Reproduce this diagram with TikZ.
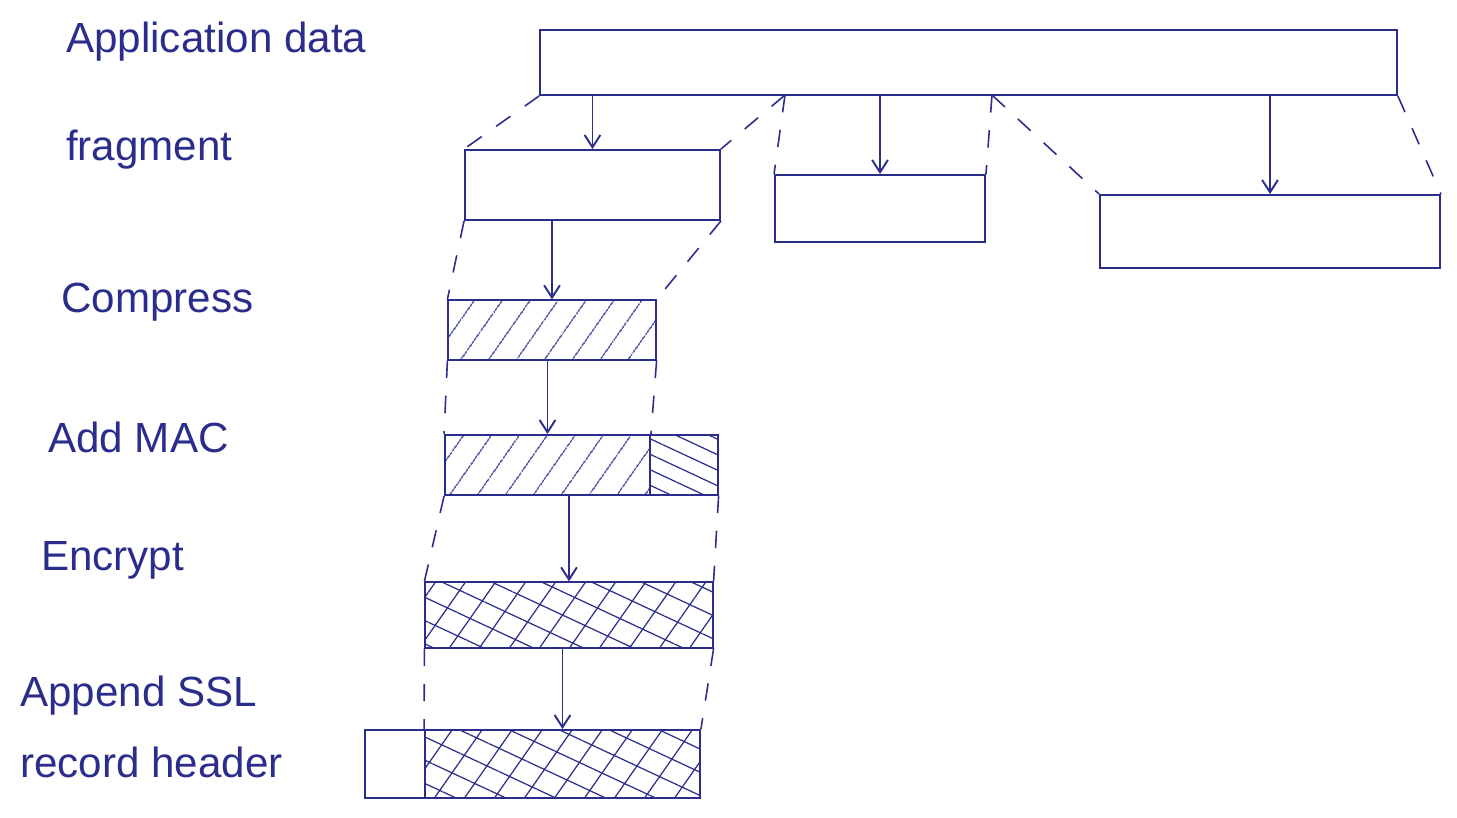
\documentclass[tikz,border=0pt]{standalone}
\usepackage{fontspec}
\setmainfont{Liberation Sans}
\usetikzlibrary{arrows.meta,patterns.meta}
\definecolor{ink}{HTML}{2B2D8C}
\begin{document}
\begin{tikzpicture}[x=0.02cm,y=-0.02cm,
  every node/.style={font=\fontsize{24}{40}\selectfont,text=ink},
  box/.style={draw=ink,line width=1.1pt,inner sep=0pt},
  slashbox/.style={box,pattern={Lines[angle=55,distance=13pt,line width=0.7pt]},pattern color=ink},
  macbox/.style={box,pattern={Lines[angle=-25,distance=8pt,line width=0.7pt]},pattern color=ink},
  crossbox/.style={box,pattern={Lines[angle=55,distance=14pt,line width=0.7pt]},pattern color=ink,
    postaction={pattern={Lines[angle=-25,distance=12pt,line width=0.7pt]},pattern color=ink}},
  guide/.style={draw=ink,line width=0.9pt,dash pattern=on 10pt off 10pt},
  arr/.style={draw=ink,line width=1.1pt,-{Straight Barb[length=7pt,width=9pt]}},
  lbl/.style={anchor=base west,align=left}]
\useasboundingbox (0,0) rectangle (1457,818);
% labels
\node[lbl] (lapp) at (60,52) {Application data};
\node[lbl] (lfrag) at (60,160) {fragment};
\node[lbl] (lcomp) at (55,312) {Compress};
\node[lbl] (lmac) at (42,452) {Add MAC};
\node[lbl] (lenc) at (35,570) {Encrypt};
\node[lbl,anchor=west] (lhdr) at (14,727) {Append SSL\\record header};
% application data and fragments
\node[box,minimum width=17.14cm,minimum height=1.3cm] (app) at (968.5,62.5) {};
\node[box,minimum width=5.1cm,minimum height=1.4cm] (frag1) at (592.5,185) {};
\node[box,minimum width=4.2cm,minimum height=1.34cm] (frag2) at (880,208.5) {};
\node[box,minimum width=6.8cm,minimum height=1.46cm] (frag3) at (1270,231.5) {};
\coordinate (cut1) at (785,95);
\coordinate (cut2) at (992,95);
\draw[arr] (app.south -| frag1) -- (frag1.north);
\draw[arr] (app.south -| frag2) -- (frag2.north);
\draw[arr] (app.south -| frag3) -- (frag3.north);
\draw[guide] (app.south west) -- (frag1.north west);
\draw[guide] (cut1) -- (frag1.north east);
\draw[guide] (cut1) -- (frag2.north west);
\draw[guide] (cut2) -- (frag2.north east);
\draw[guide] (cut2) -- (frag3.north west);
\draw[guide] (app.south east) -- (frag3.north east);
% compress
\node[slashbox,minimum width=4.16cm,minimum height=1.2cm] (comp) at (552,330) {};
\draw[arr] (comp.north |- frag1.south) -- (comp.north);
\draw[guide] (frag1.south west) -- (comp.north west);
\draw[guide] (frag1.south east) -- (comp.north east);
% add MAC
\node[slashbox,minimum width=4.1cm,minimum height=1.2cm] (macdata) at (547.5,465) {};
\node[macbox,minimum width=1.36cm,minimum height=1.2cm] (mac) at (684,465) {};
\draw[arr] (macdata.north |- comp.south) -- (macdata.north);
\draw[guide] (comp.south west) -- (macdata.north west);
\draw[guide] (comp.south east) -- (macdata.north east);
% encrypt
\node[crossbox,minimum width=5.76cm,minimum height=1.32cm] (enc) at (569,615) {};
\draw[arr] (enc.north |- macdata.south) -- (enc.north);
\draw[guide] (macdata.south west) -- (enc.north west);
\draw[guide] (mac.south east) -- (enc.north east);
% record header
\node[box,minimum width=1.2cm,minimum height=1.36cm] (hdr) at (395,764) {};
\node[crossbox,minimum width=5.5cm,minimum height=1.36cm] (rec) at (562.5,764) {};
\draw[arr] (rec.north |- enc.south) -- (rec.north);
\draw[guide] (enc.south west) -- (rec.north west);
\draw[guide] (enc.south east) -- (rec.north east);
\end{tikzpicture}
\end{document}
